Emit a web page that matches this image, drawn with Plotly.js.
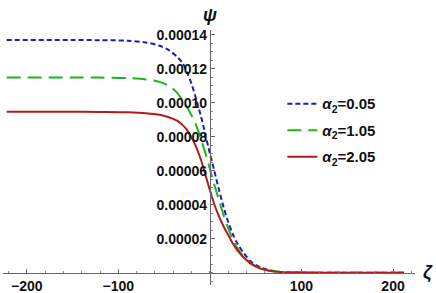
<!DOCTYPE html>
<html>
<head>
<meta charset="utf-8">
<script src="https://cdn.plot.ly/plotly-3.0.1.min.js"></script>
<style>html,body{margin:0;padding:0;background:#fff;}#plot{width:436px;height:293px;}</style>
</head>
<body>
<div id="plot"></div>
<script>
// zeta sample positions
var zeta = [-222, -150, -120, -90, -70, -55, -45, -36, -30, -25, -20, -16, -10, -5, 0, 5, 10, 15, 20, 25, 30, 37, 45, 55, 65, 80, 100, 150, 212];
// psi values (x 1e-4) for alpha2 = 0.05, 1.05, 2.05
var psiA005 = [1.369, 1.369, 1.368, 1.365, 1.355, 1.335, 1.310, 1.271, 1.235, 1.180, 1.110, 1.040, 0.925, 0.815, 0.700, 0.595, 0.485, 0.385, 0.298, 0.228, 0.172, 0.115, 0.065, 0.032, 0.014, 0.004, 0.001, 0, 0];
var psiA105 = [1.149, 1.149, 1.148, 1.145, 1.137, 1.123, 1.100, 1.060, 1.015, 0.975, 0.925, 0.880, 0.790, 0.705, 0.610, 0.515, 0.425, 0.338, 0.262, 0.196, 0.145, 0.095, 0.056, 0.028, 0.013, 0.004, 0.001, 0, 0];
var psiA205 = [0.947, 0.947, 0.946, 0.944, 0.939, 0.930, 0.915, 0.895, 0.870, 0.840, 0.795, 0.752, 0.668, 0.578, 0.485, 0.400, 0.330, 0.272, 0.222, 0.172, 0.132, 0.090, 0.052, 0.025, 0.011, 0.003, 0.001, 0, 0];
var seriesNames = ['<b><i>α</i><sub>2</sub>=0.05</b>', '<b><i>α</i><sub>2</sub>=1.05</b>', '<b><i>α</i><sub>2</sub>=2.05</b>'];
var xTickVals = [-200, -100, 100, 200];
var xTickText = ['−200', '−100', '100', '200'];
var yTickVals = [0.00002, 0.00004, 0.00006, 0.00008, 0.00010, 0.00012, 0.00014];
var yTickText = ['0.00002', '0.00004', '0.00006', '0.00008', '0.00010', '0.00012', '0.00014'];

function scale(a){ return a.map(function(v){ return v * 1e-4; }); }

var colors = ['#1c1cc0', '#1db41d', '#b41a1a'];
var dashes = ['5px,3px', '14px,7px', 'solid'];
var ys = [psiA005, psiA105, psiA205];

var traces = ys.map(function(y, i){
  return {
    x: zeta, y: scale(y), type: 'scatter', mode: 'lines',
    name: seriesNames[i], legendgroup: 'g' + i,
    line: {color: colors[i], width: 2, dash: dashes[i], shape: 'spline', smoothing: 0.8}
  };
});

var xr = [-226, 224];
var yr = [-0.0000072, 0.0001428];

var layout = {
  width: 436, height: 293,
  margin: {l: 3, r: 21, t: 30, b: 8},
  paper_bgcolor: '#fff', plot_bgcolor: '#fff',
  font: {family: 'Liberation Sans, Arial, sans-serif', size: 14, color: '#111'},
  showlegend: true,
  legend: {x: 0.678, xanchor: 'left', y: 0.775, yanchor: 'top', bgcolor: 'rgba(0,0,0,0)',
           font: {size: 15, color: '#111'}, tracegroupgap: 4, itemwidth: 30},
  xaxis: {
    range: xr, anchor: 'free', position: (0 - yr[0]) / (yr[1] - yr[0]),
    showgrid: false, zeroline: false, showline: true, linecolor: '#666', linewidth: 1,
    tickmode: 'array', tickvals: xTickVals, ticktext: xTickText,
    ticks: 'inside', ticklen: 4, tickcolor: '#666',
    minor: {ticks: 'inside', ticklen: 2, tick0: 0, dtick: 20, tickcolor: '#888'},
    tickfont: {size: 14, weight: 'bold', color: '#111'}
  },
  yaxis: {
    range: yr, anchor: 'free', position: (0 - xr[0]) / (xr[1] - xr[0]),
    showgrid: false, zeroline: false, showline: true, linecolor: '#666', linewidth: 1,
    tickmode: 'array', tickvals: yTickVals, ticktext: yTickText,
    ticks: 'inside', ticklen: 4, tickcolor: '#666',
    minor: {ticks: 'inside', ticklen: 2, tick0: 0, dtick: 0.000005, tickcolor: '#888'},
    tickfont: {size: 14, weight: 'bold', color: '#111'}
  },
  annotations: [
    {text: '<b><i>ψ</i></b>', xref: 'x', x: 0, yref: 'paper', y: 1, yanchor: 'bottom', xanchor: 'center',
     yshift: 3, showarrow: false, font: {size: 18, color: '#111'}},
    {text: '<b><i>ζ</i></b>', xref: 'paper', x: 1, xanchor: 'left', xshift: 6, yref: 'y', y: 0, yanchor: 'middle',
     showarrow: false, font: {size: 18, color: '#111'}}
  ]
};

Plotly.newPlot('plot', traces, layout, {displayModeBar: false, staticPlot: true});
</script>
</body>
</html>
